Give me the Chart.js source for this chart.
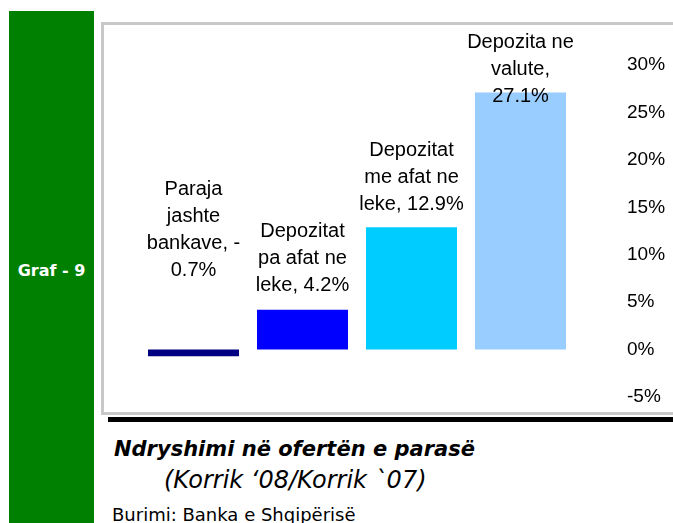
<!DOCTYPE html>
<html>
<head>
<meta charset="utf-8">
<script src="https://cdn.jsdelivr.net/npm/chart.js@4.4.1/dist/chart.umd.min.js"></script>
<style>
  html, body { margin: 0; padding: 0; background: #fff; }
  body { width: 673px; height: 523px; position: relative; overflow: hidden; }
  #green { position: absolute; left: 9px; top: 11px; width: 85px; height: 512px; background: #008000; }
  #graf { position: absolute; left: 0; top: 249px; width: 85px; text-align: center;
          font: bold 16px "DejaVu Sans", sans-serif; color: #fff; line-height: 22px; }
  #box { position: absolute; left: 101px; top: 22px; width: 600px; height: 387px;
         border: 3px solid #c8c8c8; background: #fff; }
  #rule { position: absolute; left: 108px; top: 417px; width: 600px; height: 5px; background: #000; }
  #chartWrap { position: absolute; left: 104px; top: 25px; width: 569px; height: 387px; }
  .txt { position: absolute; white-space: nowrap; color: #000; font-family: "DejaVu Sans", sans-serif; }
  #title { left: 114px; top: 437px; font-size: 21px; font-weight: bold; font-style: italic; }
  #sub { left: 164px; top: 466px; font-size: 24px; font-style: italic; }
  #src { left: 112px; top: 504px; font-size: 18px; }
</style>
</head>
<body>
<div id="green"><div id="graf">Graf - 9</div></div>
<div id="box"></div>
<div id="chartWrap"><canvas id="myChart" width="569" height="387"></canvas></div>
<div id="rule"></div>
<div class="txt" id="title">Ndryshimi në ofertën e parasë</div>
<div class="txt" id="sub">(Korrik ‘08/Korrik `07)</div>
<div class="txt" id="src">Burimi: Banka e Shqipërisë</div>
<script>
const categories = ['Paraja jashte bankave', 'Depozitat pa afat ne leke', 'Depozitat me afat ne leke', 'Depozita ne valute'];
const values = [-0.7, 4.2, 12.9, 27.1];
const colors = ['#000080', '#0000ff', '#00ccff', '#99ccff'];
const yTicks = [-5, 0, 5, 10, 15, 20, 25, 30];

// how far the last label line sits above the bar top (Excel moved them by hand)
const labelLift = [79, 24, 23, -4];

function wrap(ctx, text, maxWidth) {
    const tokens = text.split(/(?<=[ -])/);
    const lines = [];
    let cur = '';
    tokens.forEach(t => {
        const test = cur + t;
        if (cur && ctx.measureText(test.trim()).width > maxWidth) {
            lines.push(cur.trim());
            cur = t;
        } else {
            cur = test;
        }
    });
    if (cur) lines.push(cur.trim());
    return lines;
}

const barLabels = {
    id: 'barLabels',
    afterDatasetsDraw(chart) {
        const ctx = chart.ctx;
        const meta = chart.getDatasetMeta(0);
        const yScale = chart.scales.y;
        ctx.save();
        ctx.font = '20px "Liberation Sans", Arial, sans-serif';
        ctx.fillStyle = '#000';
        ctx.textAlign = 'center';
        ctx.textBaseline = 'middle';
        meta.data.forEach((bar, i) => {
            const v = values[i];
            const text = categories[i] + ', ' + v.toFixed(1) + '%';
            const lines = wrap(ctx, text, 109);
            const base = yScale.getPixelForValue(Math.max(v, 0)) - labelLift[i];
            lines.forEach((line, j) => {
                ctx.fillText(line, bar.x, base - (lines.length - 1 - j) * 27);
            });
        });
        ctx.restore();
    }
};

const canvas = document.getElementById('myChart');
const myChart = new Chart(canvas, {
    type: 'bar',
    data: {
        labels: categories,
        datasets: [{
            data: values,
            backgroundColor: colors,
            barPercentage: 0.835,
            categoryPercentage: 1
        }]
    },
    options: {
        responsive: false,
        animation: false,
        layout: { padding: { left: 35, top: 40, bottom: 15, right: 0 } },
        plugins: { legend: { display: false }, tooltip: { enabled: false } },
        scales: {
            x: { display: false },
            y: {
                position: 'right',
                min: yTicks[0],
                max: yTicks[yTicks.length - 1],
                afterBuildTicks: scale => { scale.ticks = yTicks.map(v => ({ value: v })); },
                afterFit: scale => { scale.width = 98; },
                grid: { display: false, drawTicks: true, tickLength: 52 },
                border: { display: false },
                ticks: {
                    padding: 0,
                    color: '#000',
                    font: { family: '"Liberation Sans", Arial, sans-serif', size: 19 },
                    callback: v => v + '%'
                }
            }
        }
    },
    plugins: [barLabels]
});
</script>
</body>
</html>
